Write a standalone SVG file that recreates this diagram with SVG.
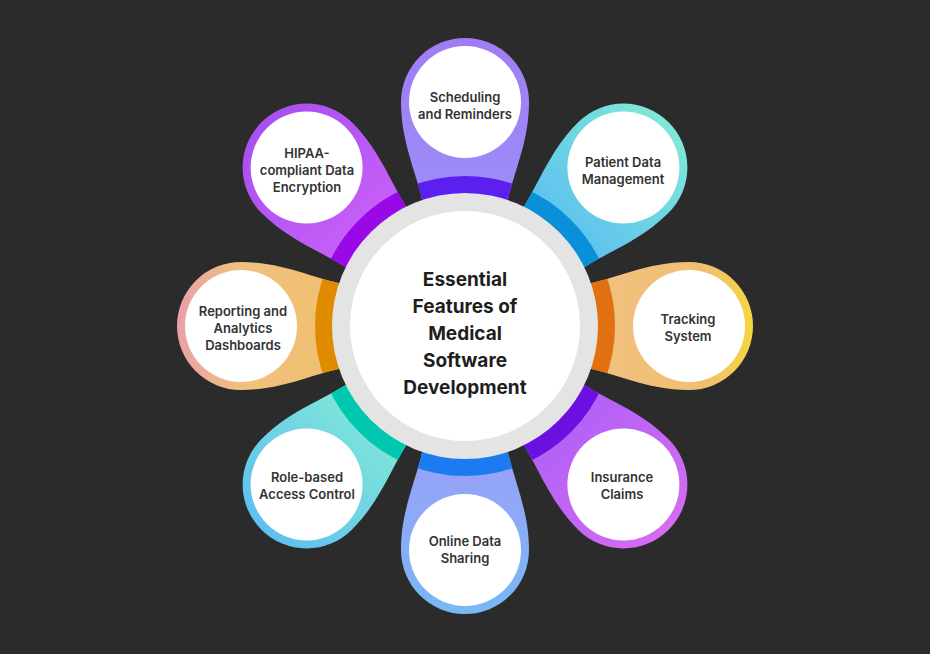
<svg xmlns="http://www.w3.org/2000/svg" width="930" height="654" viewBox="0 0 930 654">
<style>
.lbl{font-family:Inter,"Liberation Sans",sans-serif;font-size:13px;font-weight:600;fill:#333;text-anchor:middle}
.ttl{font-family:Inter,"Liberation Sans",sans-serif;font-size:19px;font-weight:700;fill:#1e1e1e;text-anchor:middle}
.band{fill:none;stroke-width:18}
</style>
<defs>
<clipPath id="pc" clipPathUnits="userSpaceOnUse"><path d="M-40,-112 C-46,-150 -64,-180 -64,-224 A64 64 0 1 1 64,-224 C64,-180 46,-150 40,-112 Z"/></clipPath>
<path id="petal" d="M-40,-112 C-46,-150 -64,-180 -64,-224 A64 64 0 1 1 64,-224 C64,-180 46,-150 40,-112 Z"/>
<linearGradient id="g1" gradientUnits="userSpaceOnUse" x1="0" y1="-288" x2="0" y2="-130"><stop offset="0" stop-color="#a07cf5"/><stop offset="1" stop-color="#9d8cf8"/></linearGradient>
<linearGradient id="g2" gradientUnits="userSpaceOnUse" x1="0" y1="-288" x2="0" y2="-130"><stop offset="0" stop-color="#7fe8d6"/><stop offset="1" stop-color="#5cc0f0"/></linearGradient>
<linearGradient id="g3" gradientUnits="userSpaceOnUse" x1="0" y1="-288" x2="0" y2="-130"><stop offset="0" stop-color="#f5d640"/><stop offset="0.3" stop-color="#f0c070"/><stop offset="1" stop-color="#f0c080"/></linearGradient>
<linearGradient id="g4" gradientUnits="userSpaceOnUse" x1="0" y1="-288" x2="0" y2="-130"><stop offset="0" stop-color="#d46cf0"/><stop offset="1" stop-color="#b060f8"/></linearGradient>
<linearGradient id="g5" gradientUnits="userSpaceOnUse" x1="0" y1="-288" x2="0" y2="-130"><stop offset="0" stop-color="#78b8f5"/><stop offset="1" stop-color="#9aa0f8"/></linearGradient>
<linearGradient id="g6" gradientUnits="userSpaceOnUse" x1="0" y1="-288" x2="0" y2="-130"><stop offset="0" stop-color="#5ec0f0"/><stop offset="1" stop-color="#80e6d8"/></linearGradient>
<linearGradient id="g7" gradientUnits="userSpaceOnUse" x1="0" y1="-288" x2="0" y2="-130"><stop offset="0" stop-color="#e8a0a8"/><stop offset="0.4" stop-color="#f0c080"/><stop offset="1" stop-color="#f0c070"/></linearGradient>
<linearGradient id="g8" gradientUnits="userSpaceOnUse" x1="0" y1="-288" x2="0" y2="-130"><stop offset="0" stop-color="#a850f0"/><stop offset="1" stop-color="#c860f8"/></linearGradient>
</defs>
<rect width="930" height="654" fill="#2b2b2b"/>
<g id="petals">
<g id="p1" transform="translate(465,326) rotate(0)"><use href="#petal" fill="url(#g1)"/><circle r="141" class="band" stroke="#5b1ff0" clip-path="url(#pc)"/><circle cy="-224" r="56" fill="#fff"/></g>
<g id="p2" transform="translate(465,326) rotate(45)"><use href="#petal" fill="url(#g2)"/><circle r="141" class="band" stroke="#0a90d8" clip-path="url(#pc)"/><circle cy="-224" r="56" fill="#fff"/></g>
<g id="p3" transform="translate(465,326) rotate(90)"><use href="#petal" fill="url(#g3)"/><circle r="141" class="band" stroke="#e07010" clip-path="url(#pc)"/><circle cy="-224" r="56" fill="#fff"/></g>
<g id="p4" transform="translate(465,326) rotate(135)"><use href="#petal" fill="url(#g4)"/><circle r="141" class="band" stroke="#6a10e0" clip-path="url(#pc)"/><circle cy="-224" r="56" fill="#fff"/></g>
<g id="p5" transform="translate(465,326) rotate(180)"><use href="#petal" fill="url(#g5)"/><circle r="141" class="band" stroke="#1a7cf0" clip-path="url(#pc)"/><circle cy="-224" r="56" fill="#fff"/></g>
<g id="p6" transform="translate(465,326) rotate(225)"><use href="#petal" fill="url(#g6)"/><circle r="141" class="band" stroke="#00c8b0" clip-path="url(#pc)"/><circle cy="-224" r="56" fill="#fff"/></g>
<g id="p7" transform="translate(465,326) rotate(270)"><use href="#petal" fill="url(#g7)"/><circle r="141" class="band" stroke="#e08a00" clip-path="url(#pc)"/><circle cy="-224" r="56" fill="#fff"/></g>
<g id="p8" transform="translate(465,326) rotate(315)"><use href="#petal" fill="url(#g8)"/><circle r="141" class="band" stroke="#9a08e8" clip-path="url(#pc)"/><circle cy="-224" r="56" fill="#fff"/></g>
</g>
<g id="center">
<circle cx="465" cy="326" r="133" fill="#e4e4e4"/>
<circle cx="465" cy="326" r="115" fill="#fff"/>
<text class="ttl" x="465" y="286">Essential</text>
<text class="ttl" x="465" y="313">Features of</text>
<text class="ttl" x="465" y="340">Medical</text>
<text class="ttl" x="465" y="367">Software</text>
<text class="ttl" x="465" y="394">Development</text>
</g>
<g id="labels">
<text class="lbl" x="465" y="102">Scheduling</text><text class="lbl" x="465" y="119">and Reminders</text>
<text class="lbl" x="623" y="167">Patient Data</text><text class="lbl" x="623" y="184">Management</text>
<text class="lbl" x="688" y="324">Tracking</text><text class="lbl" x="688" y="341">System</text>
<text class="lbl" x="622" y="482">Insurance</text><text class="lbl" x="622" y="499">Claims</text>
<text class="lbl" x="465" y="546">Online Data</text><text class="lbl" x="465" y="563">Sharing</text>
<text class="lbl" x="307" y="482">Role-based</text><text class="lbl" x="307" y="499">Access Control</text>
<text class="lbl" x="243" y="316">Reporting and</text><text class="lbl" x="243" y="333">Analytics</text><text class="lbl" x="243" y="350">Dashboards</text>
<text class="lbl" x="307" y="158">HIPAA-</text><text class="lbl" x="307" y="175">compliant Data</text><text class="lbl" x="307" y="192">Encryption</text>
</g>
</svg>
